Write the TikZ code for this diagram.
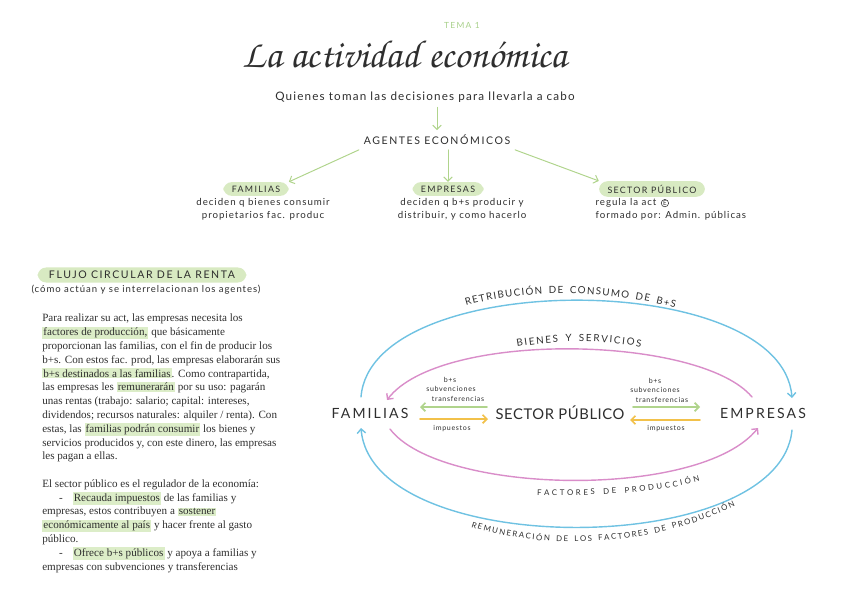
\documentclass[tikz,border=0pt]{standalone}
\usepackage{fontspec}
\setmainfont{Liberation Serif}
\newfontfamily\hand[LetterSpace=15]{Lato}
\newfontfamily\handtxt[LetterSpace=10]{Lato}
\newfontfamily\handbig[LetterSpace=4]{Lato}
\newfontfamily\titlefont{texgyrechorus-mediumitalic.otf}
\usetikzlibrary{arrows.meta,decorations.text}

\definecolor{inkc}{HTML}{2E2E2E}
\definecolor{pillgreen}{HTML}{D8EAC2}
\definecolor{hlgreen}{HTML}{DCEDC8}
\definecolor{arrgreen}{HTML}{B0D48C}
\definecolor{temagreen}{HTML}{A8D08A}
\definecolor{arcblue}{HTML}{6FC2E2}
\definecolor{arcpink}{HTML}{D98DC9}
\definecolor{arrorange}{HTML}{F2C14A}

\newcommand\hlg[1]{{\setlength{\fboxsep}{0.8pt}\colorbox{hlgreen}{#1}}}
\newcommand\arclbl{\color{inkc}\hand\fontsize{7}{8}\selectfont}
\newcommand\arcsmall{\color{inkc}\hand\fontsize{5.6}{7}\selectfont}

\begin{document}
\begin{tikzpicture}[x=0.025cm,y=-0.025cm,text=inkc,
  >={Straight Barb[length=3pt,width=6pt]},line cap=round,
  pill/.style={fill=pillgreen,rounded corners=6pt,inner xsep=6pt,inner ysep=2.6pt,
    font=\hand\fontsize{6.3}{7}\selectfont},
  subtxt/.style={font=\handtxt\fontsize{6.9}{9.5}\selectfont,align=center,inner sep=1pt},
  treearr/.style={draw=arrgreen,line width=0.7pt,->},
  bluearc/.style={draw=arcblue,line width=1pt,->},
  pinkarc/.style={draw=arcpink,line width=1pt,->},
  greenarr/.style={draw=arrgreen,line width=1.2pt,->},
  orangearr/.style={draw=arrorange,line width=1.2pt,->},
  tinylbl/.style={font=\handtxt\fontsize{5}{6}\selectfont,inner sep=0pt},
  agent/.style={font=\hand\fontsize{10}{12}\selectfont}]
  \useasboundingbox (0,0) rectangle (848,599);
  % cabecera
  \node[font=\hand\fontsize{6}{7}\selectfont,text=temagreen] (tema) at (462,25) {TEMA 1};
  \node[font=\titlefont\fontsize{27.8}{30}\selectfont] (title) at (405,55) {La actividad económica};
  \node[font=\handtxt\fontsize{8.3}{9}\selectfont] (quien) at (425,97) {Quienes toman las decisiones para llevarla a cabo};
  \node[font=\hand\fontsize{7.5}{9}\selectfont] (agentes) at (437,140) {AGENTES ECONÓMICOS};
  \draw[treearr] (quien.south -| agentes.north) -- (agentes.north);
  % agentes
  \node[pill] (fam) at (256,189) {FAMILIAS};
  \node[pill] (emp) at (448,189) {EMPRESAS};
  \node[pill] (spub) at (652,189) {SECTOR PÚBLICO};
  \draw[treearr] (agentes.south west) -- (fam.north east);
  \draw[treearr] (agentes.south -| emp.north) -- (emp.north);
  \draw[treearr] (agentes.south east) -- (spub.north west);
  \node[subtxt,anchor=north] (famtxt) at ([xshift=5pt]fam.south) {deciden q bienes consumir\\propietarios fac. produc};
  \node[subtxt,anchor=north] (emptxt) at ([xshift=10pt]emp.south) {deciden q b+s producir y\\distribuir, y como hacerlo};
  \node[subtxt,anchor=north west] (sptxtA) at (594,197) {regula la act};
  \node[draw=inkc,circle,line width=0.4pt,inner sep=0.4pt,font=\hand\fontsize{4.5}{5}\selectfont,anchor=west] (circE) at ([xshift=2pt]sptxtA.east) {E};
  \node[subtxt,anchor=north west] (sptxtB) at (sptxtA.south west) {formado por: Admin. públicas};
  % flujo circular
  \node[pill,font=\hand\fontsize{7.5}{9}\selectfont,inner xsep=8pt] (flujo) at (142,275) {FLUJO CIRCULAR DE LA RENTA};
  \node[font=\handtxt\fontsize{6.8}{8}\selectfont] (flujosub) at (146,290) {(cómo actúan y se interrelacionan los agentes)};
  \node[anchor=north west,inner sep=0pt,align=left,font=\fontsize{7.9}{9.8}\selectfont] (texto) at (42,314) {%
    Para realizar su act, las empresas necesita los\\
    \hlg{factores de producción,} que básicamente\\
    proporcionan las familias, con el fin de producir los\\
    b+s. Con estos fac. prod, las empresas elaborarán sus\\
    \hlg{b+s destinados a las familias}. Como contrapartida,\\
    las empresas les \hlg{remunerarán} por su uso: pagarán\\
    unas rentas (trabajo: salario; capital: intereses,\\
    dividendos; recursos naturales: alquiler / renta). Con\\
    estas, las \hlg{familias podrán consumir} los bienes y\\
    servicios producidos y, con este dinero, las empresas\\
    les pagan a ellas.\\[9.8pt]
    El sector público es el regulador de la economía:\\
    \hspace*{12pt}-\hspace{7pt}\hlg{Recauda impuestos} de las familias y\\
    empresas, estos contribuyen a \hlg{sostener}\\
    \hlg{económicamente al país} y hacer frente al gasto\\
    público.\\
    \hspace*{12pt}-\hspace{7pt}\hlg{Ofrece b+s públicos} y apoya a familias y\\
    empresas con subvenciones y transferencias};
  % diagrama
  \node[agent] (famd) at (370,413) {FAMILIAS};
  \node[font=\handbig\fontsize{10.5}{12}\selectfont] (sector) at (560,413) {SECTOR PÚBLICO};
  \node[agent] (empd) at (763,413) {EMPRESAS};
  \coordinate (fTop) at (361,397);
  \coordinate (eTop) at (792,398);
  \coordinate (ePk) at (752,397);
  \coordinate (fPk) at (387,400);
  \coordinate (fPkB) at (390,429);
  \coordinate (ePkB) at (758,428);
  \coordinate (eBlB) at (792,430);
  \coordinate (fBlB) at (361,428);
  \draw[bluearc] (fTop) .. controls (371,268) and (782,268) .. (eTop);
  \draw[pinkarc] (ePk) .. controls (700,335) and (440,330) .. (fPk);
  \draw[pinkarc] (fPkB) .. controls (440,495) and (700,500) .. (ePkB);
  \draw[bluearc] (eBlB) .. controls (780,560) and (372,560) .. (fBlB);
  \path[decorate,decoration={text along path,text align={fit to path},
    text={|\arclbl|RETRIBUCIÓN DE CONSUMO DE B+S}}] (466,306) .. controls (520,290) and (600,288) .. (675,308);
  \path[decorate,decoration={text along path,text align={fit to path},
    text={|\arclbl|BIENES Y SERVICIOS}}] (517,347) .. controls (555,340) and (605,340) .. (641,347);
  \path[decorate,decoration={text along path,text align={fit to path},
    text={|\arcsmall|FACTORES DE PRODUCCIÓN}}] (537,495) .. controls (580,496) and (650,495) .. (700,481);
  \path[decorate,decoration={text along path,text align={fit to path},
    text={|\arcsmall|REMUNERACIÓN DE LOS FACTORES DE PRODUCCIÓN}}] (471,527) .. controls (540,550) and (650,548) .. (735,506);
  % sector publico <-> familias
  \coordinate (gL1) at (487,407);
  \coordinate (gL2) at (420,407);
  \coordinate (oL1) at (420,419);
  \coordinate (oL2) at (488,419);
  \draw[greenarr] (gL1) -- (gL2);
  \draw[orangearr] (oL1) -- (oL2);
  \node[tinylbl] (bsL) at (450,380) {b+s};
  \node[tinylbl] (subL) at (451,389) {subvenciones};
  \node[tinylbl] (trL) at (458,399) {transferencias};
  \node[tinylbl] (impL) at (452,429) {impuestos};
  % sector publico <-> empresas
  \coordinate (gR1) at (633,407);
  \coordinate (gR2) at (700,407);
  \coordinate (oR1) at (700,420);
  \coordinate (oR2) at (630,420);
  \draw[greenarr] (gR1) -- (gR2);
  \draw[orangearr] (oR1) -- (oR2);
  \node[tinylbl] (bsR) at (655,381) {b+s};
  \node[tinylbl] (subR) at (655,390) {subvenciones};
  \node[tinylbl] (trR) at (662,400) {transferencias};
  \node[tinylbl] (impR) at (666,429) {impuestos};
\end{tikzpicture}
\end{document}
